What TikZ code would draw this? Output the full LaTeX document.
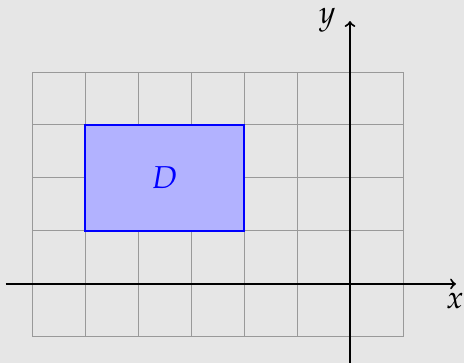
\documentclass[tikz,border=0pt]{standalone}
\usepackage{mathpazo}
\usepackage{tikz}
\definecolor{bggray}{HTML}{E6E6E6}
\definecolor{gridgray}{HTML}{999999}
\begin{document}
\begin{tikzpicture}[x=1cm,y=1cm,
  gridline/.style={draw=gridgray, line width=0.5pt},
  axis/.style={draw=black, line width=1.1pt, ->},
  region/.style={draw=blue, fill=blue!30, line width=1pt},
  lbl/.style={font=\fontsize{17}{20}\selectfont, inner sep=0pt}]
\fill[bggray] (-6.604,-1.491) rectangle (2.151,5.358);
\useasboundingbox (-6.604,-1.491) rectangle (2.151,5.358);
\draw[gridline] (-6,-1) grid (1,4);
\draw[region] (-5,1) rectangle (-2,3);
\node[lbl, text=blue] (D) at (-3.5,2) {$D$};
\coordinate (xs) at (-6.5,0);
\coordinate (xe) at (2.0,0);
\coordinate (ys) at (0,-1.5);
\coordinate (ye) at (0,4.96);
\draw[axis] (xs) -- (xe);
\draw[axis] (ys) -- (ye);
\node[lbl] (xl) at (1.98,-0.33) {$x$};
\node[lbl] (yl) at (-0.43,4.98) {$y$};
\end{tikzpicture}
\end{document}
